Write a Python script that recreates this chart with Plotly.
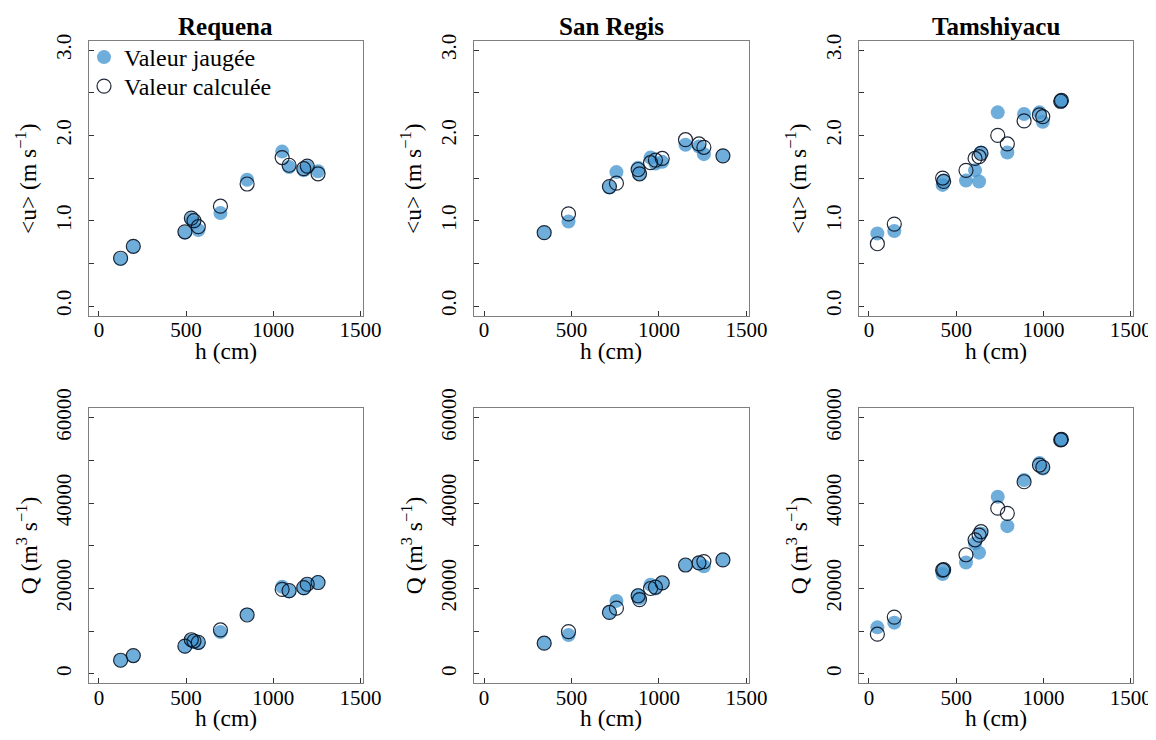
import plotly.graph_objects as go

# ---------------- data ----------------
stations = ["Requena", "San Regis", "Tamshiyacu"]

# Requena
req_h_obs = [124, 197, 493, 530, 545, 570, 697, 850, 1051, 1091, 1175, 1195, 1257]
req_u_obs = [0.55, 0.70, 0.86, 1.02, 0.98, 0.89, 1.09, 1.48, 1.81, 1.63, 1.59, 1.63, 1.58]
req_u_cal = [0.56, 0.70, 0.87, 1.03, 1.00, 0.93, 1.17, 1.43, 1.74, 1.65, 1.61, 1.64, 1.55]
req_Q_obs = [3100, 4200, 6400, 7800, 7500, 7200, 9800, 13900, 20400, 19300, 20000, 20900, 21500]
req_Q_cal = [3200, 4300, 6500, 8000, 7700, 7400, 10300, 13800, 19800, 19500, 20200, 21000, 21400]

# San Regis
srg_h_obs = [344, 483, 717, 757, 881, 889, 952, 980, 1019, 1152, 1229, 1257, 1366]
srg_u_obs = [0.86, 0.99, 1.39, 1.57, 1.62, 1.55, 1.74, 1.67, 1.69, 1.89, 1.87, 1.78, 1.76]
srg_u_cal = [0.86, 1.08, 1.40, 1.44, 1.60, 1.55, 1.68, 1.71, 1.73, 1.95, 1.90, 1.86, 1.76]
srg_Q_obs = [7200, 9100, 14400, 17100, 18500, 17700, 20900, 20000, 21200, 25500, 25900, 25200, 26700]
srg_Q_cal = [7200, 9900, 14400, 15400, 18300, 17400, 20000, 20300, 21300, 25500, 26000, 26300, 26700]

# Tamshiyacu
tam_h_obs = [48, 145, 422, 428, 556, 608, 631, 642, 738, 793, 889, 977, 996, 1099, 1103]
tam_u_obs = [0.85, 0.88, 1.42, 1.47, 1.47, 1.59, 1.46, 1.80, 2.27, 1.80, 2.25, 2.27, 2.16, 2.39, 2.41]
tam_u_cal = [0.73, 0.96, 1.50, 1.46, 1.59, 1.73, 1.75, 1.79, 2.00, 1.90, 2.17, 2.24, 2.22, 2.40, 2.41]
tam_Q_obs = [10900, 12000, 23400, 24300, 26100, 30600, 28400, 32900, 41500, 34600, 45400, 49400, 48100, 54800, 54900]
tam_Q_cal = [9300, 13300, 24300, 24400, 27900, 31400, 32500, 33300, 38800, 37600, 45000, 48900, 48400, 54800, 54900]

series = [
    (req_h_obs, req_u_obs, req_u_cal, req_Q_obs, req_Q_cal),
    (srg_h_obs, srg_u_obs, srg_u_cal, srg_Q_obs, srg_Q_cal),
    (tam_h_obs, tam_u_obs, tam_u_cal, tam_Q_obs, tam_Q_cal),
]

x_ticks = [0, 500, 1000, 1500]
u_ticks = [0, 0.5, 1.0, 1.5, 2.0, 2.5, 3.0]
u_labels = ["0.0", " ", "1.0", " ", "2.0", " ", "3.0"]
Q_ticks = [0, 10000, 20000, 30000, 40000, 50000, 60000]
Q_labels = ["0", " ", "20000", " ", "40000", " ", "60000"]

x_title = "h (cm)"
u_title = "&lt;u&gt; (m s<sup>−1</sup>)"
Q_title = "Q (m<sup>3</sup> s<sup>−1</sup>)"
obs_name = "Valeur jaugée"
cal_name = "Valeur calculée"

# ---------------- figure ----------------
OFF = 8                      # page body margin offset
W, H = 1156 - OFF, 740 - OFF
FONT = "Liberation Serif"
BLUE = "rgba(70,150,208,0.78)"

fig = go.Figure()

# positions in screen pixels of the reference, converted to figure pixels
col_px = [(88.7 - OFF, 363.0 - OFF), (473.7 - OFF, 749.0 - OFF), (858.7 - OFF, 1133.3 - OFF)]
row_px = [(40.7 - OFF, 316.0 - OFF), (407.7 - OFF, 683.3 - OFF)]

def px_x(v):
    return v / W

def px_y(v):
    return 1 - v / H

axis_common = dict(
    showline=True, linecolor="#7f7f7f", linewidth=1.2, mirror=True,
    ticks="inside", ticklen=5, tickcolor="#333333", tickwidth=1,
    showgrid=False, zeroline=False, automargin=False,
    tickfont=dict(family=FONT, size=21, color="black"),
)

k = 0
for r in range(2):
    for c in range(3):
        k += 1
        h, uo, uc, qo, qc = series[c]
        yo, yc = (uo, uc) if r == 0 else (qo, qc)
        xa = "x" if k == 1 else f"x{k}"
        ya = "y" if k == 1 else f"y{k}"
        fig.add_trace(go.Scatter(
            x=h, y=yo, mode="markers", name=obs_name, showlegend=(k == 1),
            legend="legend", xaxis=xa, yaxis=ya,
            marker=dict(size=14, color=BLUE, line=dict(width=0)),
        ))
        fig.add_trace(go.Scatter(
            x=h, y=yc, mode="markers", name=cal_name, showlegend=(k == 1),
            legend="legend2", xaxis=xa, yaxis=ya,
            marker=dict(size=14, color="rgba(0,0,0,0)",
                        line=dict(width=1.2, color="rgba(10,20,35,0.9)")),
        ))
        xkey = "xaxis" if k == 1 else f"xaxis{k}"
        ykey = "yaxis" if k == 1 else f"yaxis{k}"
        a, b = col_px[c]
        t, bt = row_px[r]
        fig.layout[xkey] = dict(
            axis_common, domain=[px_x(a), px_x(b)], anchor=ya,
            range=[-59, 1515], tickvals=x_ticks, ticktext=[str(v) for v in x_ticks],
            ticklabelstandoff=-5,
        )
        if r == 0:
            yk = dict(range=[-0.117, 3.11], tickvals=u_ticks, ticktext=u_labels)
            ytxt = u_title
        else:
            yk = dict(range=[-2200, 62340], tickvals=Q_ticks, ticktext=Q_labels)
            ytxt = Q_title
        fig.layout[ykey] = dict(
            axis_common, domain=[px_y(bt), px_y(t)], anchor=xa,
            tickangle=-90, ticklabelstandoff=8, **yk,
        )
        # axis titles
        fig.add_annotation(
            text=x_title, x=px_x((a + b) / 2), y=px_y(bt + 35),
            xref="paper", yref="paper", showarrow=False,
            xanchor="center", yanchor="middle",
            font=dict(family=FONT, size=23.5, color="black"),
        )
        fig.add_annotation(
            text=ytxt, x=px_x(a - 62), y=px_y((t + bt) / 2),
            xref="paper", yref="paper", showarrow=False, textangle=-90,
            xanchor="center", yanchor="middle",
            font=dict(family=FONT, size=23.5, color="black"),
        )

for c, name in enumerate(stations):
    a, b = col_px[c]
    fig.add_annotation(
        text=f"<b>{name}</b>", x=px_x((a + b) / 2), y=px_y(27 - OFF),
        xref="paper", yref="paper", showarrow=False,
        font=dict(family=FONT, size=25, color="black"),
        xanchor="center", yanchor="middle",
    )

leg_common = dict(
    xanchor="left", yanchor="top", bgcolor="rgba(0,0,0,0)", borderwidth=0,
    font=dict(family=FONT, size=24, color="black"), itemwidth=30,
)
fig.update_layout(
    width=W, height=H, autosize=False,
    margin=dict(l=0, r=0, t=0, b=0, pad=0),
    paper_bgcolor="white", plot_bgcolor="white",
    font=dict(family=FONT, size=21, color="black"),
    legend=dict(leg_common, x=px_x(76), y=px_y(58 - 23 - OFF)),
    legend2=dict(leg_common, x=px_x(76), y=px_y(87 - 23 - OFF)),
)

fig.write_html("out.html")
